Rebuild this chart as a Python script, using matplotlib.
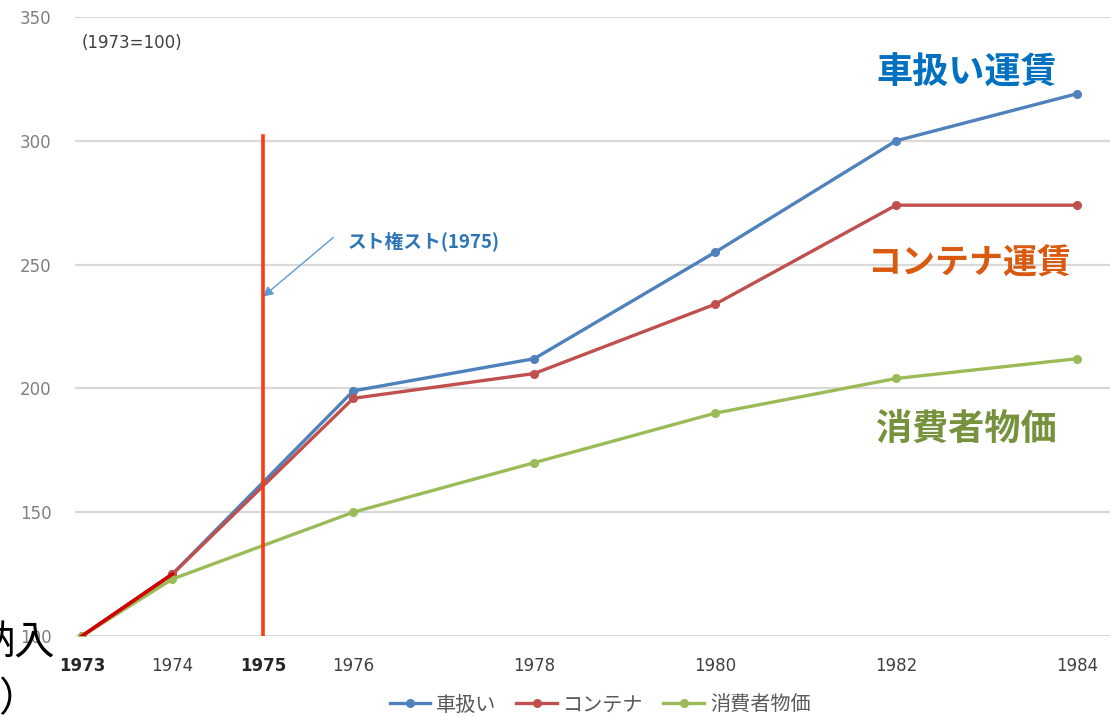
import matplotlib
matplotlib.use("Agg")
import matplotlib.pyplot as plt

plt.rcParams['font.family'] = ['Noto Sans CJK JP', 'DejaVu Sans']

# 1973=100 の指数
years = [1973, 1974, 1976, 1978, 1980, 1982, 1984]
shaatsukai = [100, 125, 199, 212, 255, 300, 319]   # 車扱い
container = [100, 125, 196, 206, 234, 274, 274]    # コンテナ
cpi = [100, 123, 150, 170, 190, 204, 212]          # 消費者物価

tick_years = [1973, 1974, 1975, 1976, 1978, 1980, 1982, 1984]
strike_year = 1975
strike_top = 302

fig = plt.figure(figsize=(11.1, 7.16), dpi=100)
ax = fig.add_axes([75 / 1110, 80 / 716, 1035 / 1110, 619 / 716])

ax.plot(years, shaatsukai, color='#4F81BD', lw=2.4, marker='o', ms=5.5, label='車扱い', zorder=3)
ax.plot(years, container, color='#C0504D', lw=2.4, marker='o', ms=5.5, label='コンテナ', zorder=3)
ax.plot(years, cpi, color='#9BBB59', lw=2.4, marker='o', ms=5.5, label='消費者物価', zorder=3)
# 最初の区間だけ濃い赤で上書き
ax.plot(years[:2], container[:2], color='#D00000', lw=2.6, zorder=4)

# スト権スト
ax.plot([strike_year, strike_year], [100, strike_top], color='#FF3A10', lw=2.6, zorder=5)
ax.annotate('', xy=(1975.0, 237), xytext=(1975.78, 261),
            arrowprops=dict(arrowstyle='-|>', color='#5B9BD5', lw=1.0,
                            mutation_scale=15, shrinkA=0, shrinkB=0))
ax.text(1975.94, 259.5, 'スト権スト(1975)', color='#2E75B6', fontsize=13.5,
        fontweight='bold', va='center', ha='left')

ax.set_xlim(1972.923, 1984.365)
ax.set_ylim(100, 350)
ax.set_yticks(range(100, 351, 50))
ax.set_xticks(tick_years)
ax.set_xticklabels([str(y) for y in tick_years])
for lbl in ax.get_xticklabels() + ax.get_yticklabels():
    lbl.set_family('DejaVu Sans')
for lbl in ax.get_xticklabels():
    lbl.set_color('#404040')
    if lbl.get_text() in ('1973', '1975'):
        lbl.set_fontweight('bold')
        lbl.set_color('#262626')
ax.tick_params(axis='y', length=0, pad=17, labelsize=12, labelcolor='#7F7F7F')
ax.tick_params(axis='x', length=0, pad=15, labelsize=12)
ax.grid(axis='y', color='#D9D9D9', lw=1.6)
ax.set_axisbelow(True)
for s in ax.spines.values():
    s.set_visible(False)

ax.text((82 - 75) / 1035, 1 - 26 / 619, '(1973=100)', transform=ax.transAxes,
        fontsize=12, color='#404040', va='center', ha='left', family='DejaVu Sans')

# 系列名
fig.text(967 / 1110, 1 - 73 / 716, '車扱い運賃', color='#0070C0', fontsize=26,
         fontweight='bold', ha='center', va='center')
fig.text(969 / 1110, 1 - 263 / 716, 'コンテナ運賃', color='#D9590F', fontsize=24.5,
         fontweight='bold', ha='center', va='center')
fig.text(966 / 1110, 1 - 429 / 716, '消費者物価', color='#76923C', fontsize=26,
         fontweight='bold', ha='center', va='center')

# 左端の切れた文字
fig.text(55 / 1110, 1 - 643 / 716, '納入', fontsize=29, color='black',
         ha='right', va='center')
fig.text(-2 / 1110, 1 - 700 / 716, '）', fontsize=29, color='black',
         ha='left', va='center')

fig.legend(loc='center', bbox_to_anchor=(600 / 1110, 1 - 705 / 716), ncol=3,
           frameon=False, fontsize=14.5, handlelength=2.0, handletextpad=0.3,
           columnspacing=1.0, labelcolor='#595959')

fig.savefig('out.png', dpi=100)
